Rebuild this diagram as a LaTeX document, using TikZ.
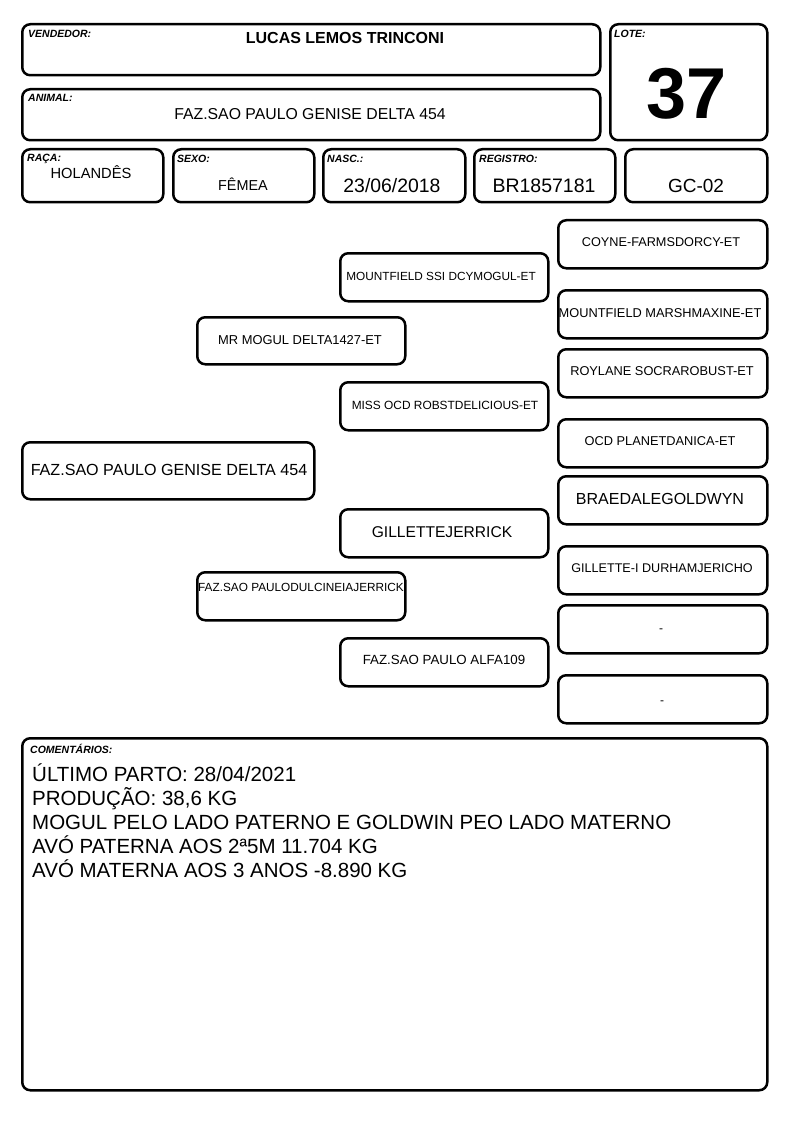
\documentclass[tikz,border=0pt]{standalone}
\usepackage{fontspec}
\setmainfont{Liberation Sans}
\begin{document}
\begin{tikzpicture}[x=1pt,y=-1pt,
  box/.style={draw, line width=2.5pt, rounded corners=8pt, inner sep=0pt, anchor=north west},
  lbl/.style={anchor=north west, inner sep=0pt, font=\fontsize{10.5}{12}\selectfont\bfseries\itshape},
  txt/.style={inner sep=0pt}]
\useasboundingbox (0,0) rectangle (794,1123);
% header boxes
\node[box, minimum width=578pt, minimum height=51pt] (vend) at (21,23) {};
\node[box, minimum width=157pt, minimum height=116pt] (lote) at (609,23) {};
\node[box, minimum width=578pt, minimum height=51pt] (anim) at (21,88) {};
\node[box, minimum width=141pt, minimum height=53pt] (raca) at (21,148) {};
\node[box, minimum width=141pt, minimum height=53pt] (sexo) at (172,148) {};
\node[box, minimum width=142pt, minimum height=53pt] (nasc) at (322,148) {};
\node[box, minimum width=141pt, minimum height=53pt] (reg) at (473,148) {};
\node[box, minimum width=142pt, minimum height=53pt] (gc) at (624,148) {};
\node[lbl] (vendl) at (28,30) {VENDEDOR:};
\node[txt, font=\fontsize{16}{18}\selectfont\bfseries] (vendt) at (345,38) {LUCAS LEMOS TRINCONI};
\node[lbl] (lotel) at (614,30) {LOTE:};
\node[txt, font=\fontsize{72}{74}\selectfont\bfseries] (lotet) at (687,94) {37};
\node[lbl] (animl) at (28,94) {ANIMAL:};
\node[txt, font=\fontsize{15.8}{18}\selectfont] (animt) at (310,114) {FAZ.SAO PAULO GENISE DELTA 454};
\node[lbl] (racal) at (27,154) {RAÇA:};
\node[txt, font=\fontsize{14.7}{17}\selectfont] (racat) at (91,172) {HOLANDÊS};
\node[lbl] (sexol) at (177,155) {SEXO:};
\node[txt, font=\fontsize{14.4}{17}\selectfont] (sexot) at (243,184) {FÊMEA};
\node[lbl] (nascl) at (327,155) {NASC.:};
\node[txt, font=\fontsize{19.4}{22}\selectfont] (nasct) at (392,186) {23/06/2018};
\node[lbl] (regl) at (479,155) {REGISTRO:};
\node[txt, font=\fontsize{19.5}{22}\selectfont] (regt) at (544,186) {BR1857181};
\node[txt, font=\fontsize{19}{22}\selectfont] (gct) at (696,186) {GC-02};
% pedigree
\node[box, minimum width=292pt, minimum height=57pt] (p0) at (21,441) {};
\node[txt, font=\fontsize{16.1}{18}\selectfont] at (169,470) {FAZ.SAO PAULO GENISE DELTA 454};
\node[box, minimum width=208pt, minimum height=47pt] (s) at (196,316) {};
\node[txt, font=\fontsize{12.9}{15}\selectfont] at (300,340) {MR MOGUL DELTA1427-ET};
\node[box, minimum width=208pt, minimum height=48pt] (d) at (196,571) {};
\node[txt, font=\fontsize{11.8}{14}\selectfont] at (301,587) {FAZ.SAO PAULODULCINEIAJERRICK};
\node[box, minimum width=208pt, minimum height=48pt] (ss) at (339,252) {};
\node[txt, font=\fontsize{11.8}{14}\selectfont] at (441,276) {MOUNTFIELD SSI DCYMOGUL-ET};
\node[box, minimum width=208pt, minimum height=48pt] (sd) at (339,381) {};
\node[txt, font=\fontsize{11.9}{14}\selectfont] at (445,405) {MISS OCD ROBSTDELICIOUS-ET};
\node[box, minimum width=208pt, minimum height=48pt] (ds) at (339,508) {};
\node[txt, font=\fontsize{15.6}{18}\selectfont] at (442,532) {GILLETTEJERRICK};
\node[box, minimum width=208pt, minimum height=48pt] (dd) at (339,637) {};
\node[txt, font=\fontsize{13.3}{15}\selectfont] at (444,660) {FAZ.SAO PAULO ALFA109};
\node[box, minimum width=209pt, minimum height=48pt] (sss) at (557,219) {};
\node[txt, font=\fontsize{12.7}{15}\selectfont] at (661,242) {COYNE-FARMSDORCY-ET};
\node[box, minimum width=209pt, minimum height=48pt] (ssd) at (557,289) {};
\node[txt, font=\fontsize{12.8}{15}\selectfont] at (660,313) {MOUNTFIELD MARSHMAXINE-ET};
\node[box, minimum width=209pt, minimum height=48pt] (sds) at (557,348) {};
\node[txt, font=\fontsize{12.8}{15}\selectfont] at (662,371) {ROYLANE SOCRAROBUST-ET};
\node[box, minimum width=209pt, minimum height=48pt] (sdd) at (557,418) {};
\node[txt, font=\fontsize{12.8}{15}\selectfont] at (660,441) {OCD PLANETDANICA-ET};
\node[box, minimum width=209pt, minimum height=48pt] (dss) at (557,475) {};
\node[txt, font=\fontsize{16}{18}\selectfont] at (660,499) {BRAEDALEGOLDWYN};
\node[box, minimum width=209pt, minimum height=48pt] (dsd) at (557,545) {};
\node[txt, font=\fontsize{12.6}{15}\selectfont] at (662,568) {GILLETTE-I DURHAMJERICHO};
\node[box, minimum width=209pt, minimum height=48pt] (dds) at (557,604) {};
\node[txt, font=\fontsize{12}{14}\selectfont] at (661,631) {-};
\node[box, minimum width=209pt, minimum height=48pt] (ddd) at (557,674) {};
\node[txt, font=\fontsize{12}{14}\selectfont] at (662,703) {-};
% comments
\node[box, minimum width=745pt, minimum height=352pt] (com) at (21,737) {};
\node[lbl] (coml) at (30,744) {COMENTÁRIOS:};
\node[anchor=north west, inner sep=0pt, align=left, font=\fontsize{20.5}{24}\selectfont] (comt) at (32,764) {ÚLTIMO PARTO: 28/04/2021\\
PRODUÇÃO: 38,6 KG\\
MOGUL PELO LADO PATERNO E GOLDWIN PEO LADO MATERNO\\
AVÓ PATERNA AOS 2ª5M 11.704 KG\\
AVÓ MATERNA AOS 3 ANOS -8.890 KG};
\end{tikzpicture}
\end{document}
